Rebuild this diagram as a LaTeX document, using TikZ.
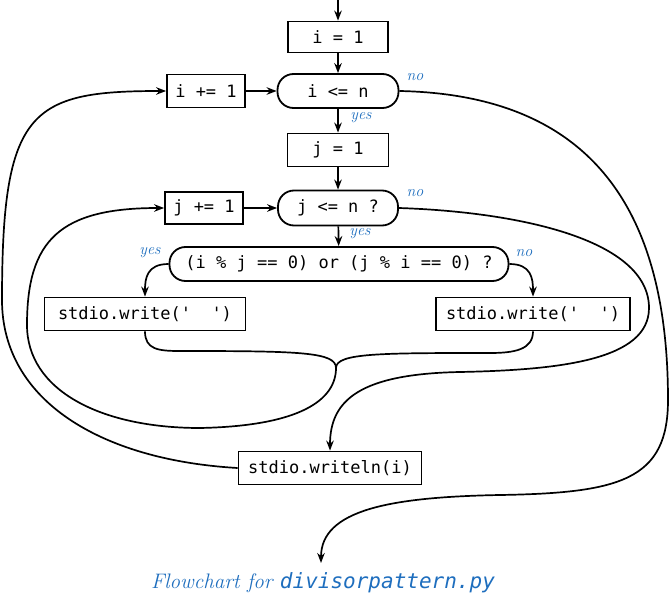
\documentclass[tikz,border=0pt]{standalone}
\usepackage{fontspec}
\setmonofont{DejaVu Sans Mono}
\usetikzlibrary{arrows.meta}
\definecolor{lblue}{RGB}{30,110,190}
\tikzset{
 box/.style={draw, line width=1.8pt, rectangle, inner sep=0pt, font=\ttfamily\fontsize{17}{17}\selectfont},
 cond/.style={box, rounded corners=16pt},
 conn/.style={line width=1.7pt, -{Stealth[length=10pt,width=7.5pt]}},
 link/.style={line width=1.7pt},
 lab/.style={font=\itshape\fontsize{16}{16}\selectfont, text=lblue, inner sep=0pt},
}
\begin{document}
\begin{tikzpicture}[x=1pt,y=-1pt]
\useasboundingbox (0,0) rectangle (670,599);
\node[box, minimum width=100pt, minimum height=31pt] (i1) at (338,37) {i = 1};
\node[cond, minimum width=121pt, minimum height=34pt] (ile) at (338,91) {i <= n};
\node[box, minimum width=78pt, minimum height=33pt] (iinc) at (206,91) {i += 1};
\node[box, minimum width=101pt, minimum height=33pt] (j1) at (338,150) {j = 1};
\node[cond, minimum width=120pt, minimum height=35pt] (jle) at (338,208) {j <= n ?};
\node[box, minimum width=78pt, minimum height=32pt] (jinc) at (204,208) {j += 1};
\node[cond, minimum width=339pt, minimum height=34pt] (dec) at (339,264) {(i \% j == 0) or (j \% i == 0) ?};
\node[box, minimum width=201pt, minimum height=33pt] (wl) at (145,314) {stdio.write(\textquotesingle\ \ \textquotesingle)};
\node[box, minimum width=194pt, minimum height=33pt] (wr) at (533,314) {stdio.write(\textquotesingle\ \ \textquotesingle)};
\node[box, minimum width=183pt, minimum height=33pt] (wln) at (330,468) {stdio.writeln(i)};

\node[lab] (no1) at (415,77) {no};
\node[lab] (yes1) at (361,118) {yes};
\node[lab] (no2) at (415,193) {no};
\node[lab] (yes2) at (360,234) {yes};
\node[lab] (yes3) at (150,253) {yes};
\node[lab] (no3) at (524,253) {no};

\coordinate (top) at (338,0);
\coordinate (m) at (336,368);
\coordinate (exit) at (321,563);

\draw[conn] (top) -- (i1);
\draw[conn] (i1) -- (ile);
\draw[conn] (ile) -- (j1);
\draw[conn] (j1) -- (jle);
\draw[conn] (jle) -- (dec);
\draw[conn] (iinc) -- (ile);
\draw[conn] (jinc) -- (jle);
\draw[conn] (dec.west) .. controls +(-22,0) and +(0,-18) .. (wl.north);
\draw[conn] (dec.east) .. controls +(22,0) and +(0,-18) .. (wr.north);

\draw[link] (wl.south) .. controls +(0,18) and (158,351) .. (180,351) .. controls (300,351) and (336,352) .. (m);
\draw[link] (wr.south) .. controls +(0,18) and (515,353) .. (490,353) .. controls (380,353) and (336,353) .. (m);
\draw[conn] (m) .. controls (336,400) and (300,426) .. (200,428) .. controls (100,428) and (27,390) .. (27,325) .. controls (27,240) and (60,208) .. (jinc.west);

\draw[conn] (jle.east) .. controls (520,212) and (649,240) .. (649,308) .. controls (649,360) and (560,370) .. (460,372) .. controls (360,374) and (330,400) .. (wln.north);

\draw[conn] (wln.west) .. controls (100,460) and (2,400) .. (2,300) .. controls (2,110) and (30,91) .. (iinc.west);

\draw[conn] (ile.east) .. controls (600,95) and (668,220) .. (668,400) .. controls (668,480) and (620,493) .. (500,495) .. controls (390,497) and (321,510) .. (exit);

\node[font=\fontsize{21}{21}\selectfont, text=lblue, inner sep=0pt] (cap) at (323,583) {\itshape Flowchart for {\ttfamily\itshape divisorpattern.py}};
\end{tikzpicture}
\end{document}
